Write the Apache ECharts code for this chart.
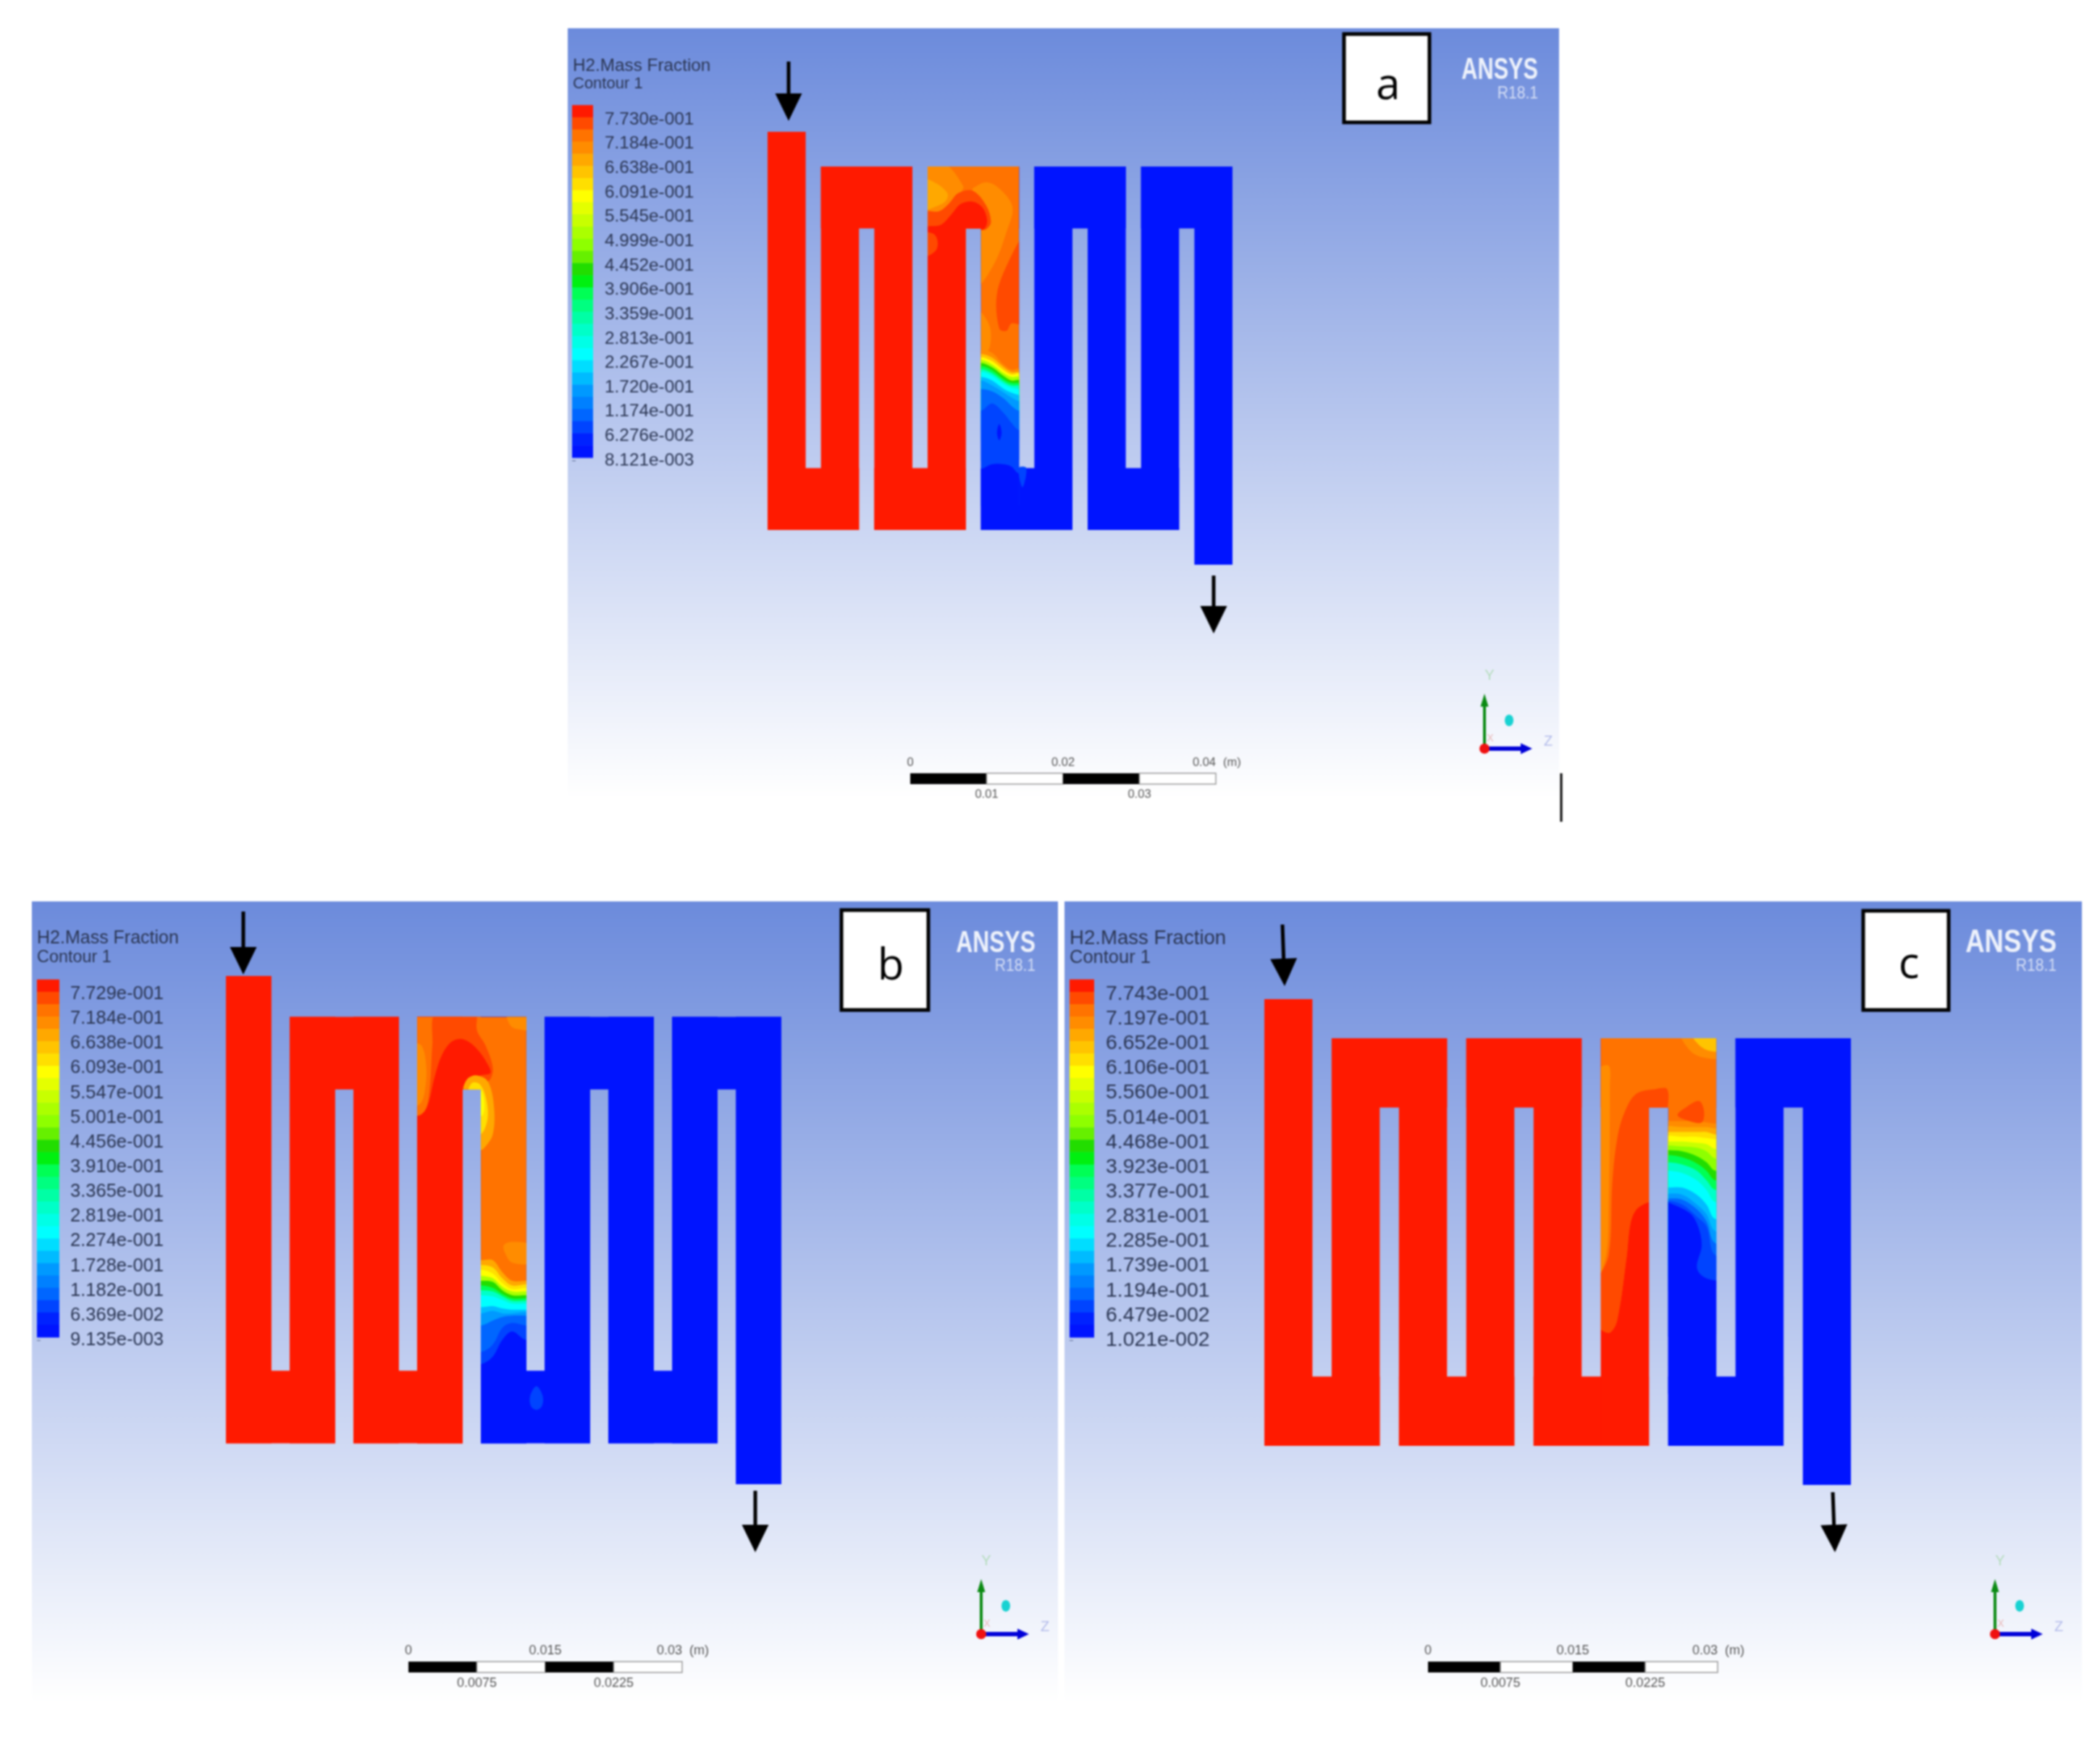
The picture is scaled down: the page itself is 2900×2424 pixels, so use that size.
<!DOCTYPE html>
<html>
<head>
    <meta charset="utf-8">
    <title>H2 Mass Fraction contours</title>
    <script src="https://cdn.jsdelivr.net/npm/echarts@6/dist/echarts.min.js"></script>
    <style>
        html, body { margin: 0; padding: 0; background: #fff; }
        /* the reference is a soft screenshot */
        #main { filter: blur(0.8px); }
    </style>
</head>
<body>
    <div id="main" style="width: 2900px;height:2424px;"></div>
    <script type="text/javascript">
        // colour legend, top band to bottom band
        var bandColors = ['#ff1a00', '#ff4a00', '#ff7300', '#ff8c00', '#ffa800', '#ffc400', '#ffdf00', '#ffff00',
            '#e4ff00', '#c8ff00', '#abff00', '#8eff00', '#66f000', '#22dd00', '#00f010', '#00ff55', '#00ff80',
            '#00ffa5', '#00ffc8', '#00ffe6', '#00ffff', '#00ddff', '#00bbff', '#0099ff', '#0080ff', '#0066ff',
            '#0044ff', '#0022ff', '#0014ff'];

        var legendA = ['7.730e-001', '7.184e-001', '6.638e-001', '6.091e-001', '5.545e-001', '4.999e-001', '4.452e-001', '3.906e-001',
            '3.359e-001', '2.813e-001', '2.267e-001', '1.720e-001', '1.174e-001', '6.276e-002', '8.121e-003'];
        var legendB = ['7.729e-001', '7.184e-001', '6.638e-001', '6.093e-001', '5.547e-001', '5.001e-001', '4.456e-001', '3.910e-001',
            '3.365e-001', '2.819e-001', '2.274e-001', '1.728e-001', '1.182e-001', '6.369e-002', '9.135e-003'];
        var legendC = ['7.743e-001', '7.197e-001', '6.652e-001', '6.106e-001', '5.560e-001', '5.014e-001', '4.468e-001', '3.923e-001',
            '3.377e-001', '2.831e-001', '2.285e-001', '1.739e-001', '1.194e-001', '6.479e-002', '1.021e-002'];

        // scale bars, metres
        var scaleMarksA = [0, 0.01, 0.02, 0.03, 0.04];
        var scaleMarksBC = [0, 0.0075, 0.015, 0.0225, 0.03];

        // serpentine channel in mm, inlet to outlet: [x0, x1, y0, y1], y measured down from the top row
        var flowPath = [
            [0, 5, -4.5, 47], [0, 12, 39, 47], [7, 12, 0, 47], [7, 19, 0, 8], [14, 19, 0, 47], [14, 26, 39, 47],
            [21, 26, 0, 47], [21, 33, 0, 8], [28, 33, 0, 47], [28, 40, 39, 47], [35, 40, 0, 47], [35, 47, 0, 8],
            [42, 47, 0, 47], [42, 54, 39, 47], [49, 54, 0, 47], [49, 61, 0, 8], [56, 61, 0, 51.5]
        ];
        var redPiecesA = 8, redPiecesB = 8, redPiecesC = 12;

        // bend where the hydrogen front sits, the orange part of it, and the leg going down from it
        var hotOutlineAB = [[21, 0], [33, 0], [33, 47], [28, 47], [28, 8], [26, 8], [26, 47], [21, 47]];
        var hotOutlineC = [[35, 0], [47, 0], [47, 47], [42, 47], [42, 8], [40, 8], [40, 47], [35, 47]];
        var hotBaseAB = [[21, 0], [33, 0], [33, 30], [28, 30], [28, 8], [26, 8], [26, 13], [21, 13]];
        var hotBaseC = [[35, 0], [47, 0], [47, 12], [42, 12], [42, 8], [40, 8], [40, 34], [35, 34]];
        var downLegAB = [[28, 0], [33, 0], [33, 47], [28, 47]];
        var downLegC = [[42, 0], [47, 0], [47, 47], [42, 47]];

        // contour patches in mm: [band, points], painted in order
        var patchesA = [
            [3, [[20.5, -0.5], [23.12, -0.5], [25.65, 2.5], [25.33, 3.44], [24.07, 5.63], [21.85, 6.56], [20.5, 6.25]]],
            [4, [[20.5, 1.7], [22.17, 2.19], [23.59, 3.44], [23.43, 4.38], [22.48, 5], [20.5, 5.47]]],
            [3, [[26.92, 2.81], [28.8, 2.03], [30.7, 3.1], [32.14, 5.31], [31.35, 8.44], [29.77, 12.5], [27.7, 15.2], [27.7, 8], [28.66, 8.13], [29.3, 7.19], [28.66, 5], [26.92, 3.13]]],
            [1, [[20.5, 5.9], [22.48, 5.78], [23.75, 4.84], [25.02, 3.44], [26.92, 3.13], [28.66, 5], [29.3, 7.19], [28.66, 8.13], [28, 8.2], [20.5, 8.6]]],
            [0, [[20.5, 8.2], [22.8, 7.5], [24.07, 6.25], [25.33, 4.84], [26.92, 4.53], [28.2, 5.31], [28.8, 6.88], [28.5, 7.97], [27.5, 8.3], [26.5, 8.5], [26.5, 48], [20.5, 48]]],
            [1, [[20.5, 8.6], [21.85, 8.75], [22.33, 9.85], [22, 10.95], [20.5, 11.57]]],
            [1, [[33.6, 9.2], [31.67, 12.2], [30.08, 16.57], [30.4, 20.95], [31.35, 21.26], [32, 20.3], [33.6, 20.3]]],
            [3, [[27.7, 18.76], [29.13, 20.6], [29.13, 23.45], [28.2, 24.39], [27.7, 24.39]]]
        ];
        var patchesB = [
            [3, [[20.5, 3], [21.5, 3.2], [22, 5.5], [21.87, 8], [21.4, 9.5], [20.5, 9.8]]],
            [1, [[23.07, -0.5], [27.31, -0.5], [27.58, 1.54], [28.5, 3.14], [29.3, 5.53], [29.04, 6.86], [28, 7.5], [26, 9], [20.5, 11.2], [21.87, 10.32], [22.4, 7.66], [22.67, 3.14]]],
            [0, [[20, 11], [21.34, 10.85], [22.14, 9.79], [22.93, 6.6], [23.73, 4.2], [24.79, 2.74], [25.98, 2.47], [27.44, 3.4], [28.77, 5.27], [29.04, 6.2], [27.8, 6.5], [26.8, 7.5], [26.5, 9], [26.5, 48], [20, 48]]],
            [4, [[26.12, 8.2], [26.5, 6.86], [27.58, 6.46], [28.77, 7.13], [29.43, 9.79], [29.3, 12.98], [28.24, 14.58], [27.8, 14.58], [27.8, 8.2]]],
            [6, [[26.65, 8.2], [27.05, 7.26], [27.84, 7.39], [28.5, 8.72], [28.77, 10.85], [28.37, 12.45], [27.8, 13], [27.8, 8.2]]],
            [7, [[27.7, 8], [28.11, 8.19], [28.37, 9.79], [28.19, 10.85], [27.8, 10.85]]],
            [3, [[30.9, -0.5], [33.5, -0.5], [33.5, 1.35], [32, 1.35], [31.2, 0.9]]],
            [3, [[30.5, 25.2], [31.43, 24.8], [33.5, 25.2], [33.5, 27.08], [31.43, 27.08], [30.77, 26.28]]]
        ];
        var patchesC = [
            [3, [[34.5, 3.9], [35.81, 3.15], [35.94, 5.52], [35.81, 19.46], [35.56, 25], [34.5, 28]]],
            [3, [[43.4, -0.5], [47.5, -0.5], [47.5, 2.18], [45.48, 2.18], [44.2, 1.34]]],
            [5, [[44.5, -0.5], [47.5, -0.5], [47.5, 1.4], [45.7, 1.2]]],
            [1, [[41.9, 5.9], [41.9, 8.5], [41, 19], [39.96, 18.9], [38.7, 19.74], [38.07, 21.41], [37.7, 25.03], [36.69, 32.56], [35.94, 33.95], [35.06, 33.67], [34.5, 33], [34.5, 28.5], [35.81, 25], [36.19, 16.67], [36.69, 11.65], [37.45, 8.59], [38.7, 6.4], [40.71, 5.86]]],
            [0, [[41, 18.9], [39.96, 18.9], [38.7, 19.74], [38.07, 21.41], [37.7, 25.03], [36.69, 32.56], [35.94, 33.95], [35.06, 33.67], [34.5, 33], [34.5, 48], [41, 48]]]
        ];

        // the front across the hot leg: [band, depth in mm at each frontX]
        var frontXA = [28, 29.45, 31, 32, 33];
        var frontsA = [
            [3, [23.76, 24.08, 25.64, 26.27, 26.11]], [5, [24.23, 24.7, 25.95, 26.58, 26.52]], [7, [24.64, 25.17, 26.36, 26.89, 26.73]],
            [10, [25.01, 25.58, 26.73, 27.2, 27.14]], [13, [25.39, 25.95, 27.11, 27.67, 27.58]], [15, [25.8, 26.33, 27.52, 27.98, 27.98]],
            [18, [26.2, 26.73, 27.83, 28.3, 28.3]], [20, [26.52, 27.05, 28.14, 28.61, 28.77]], [22, [27.2, 27.67, 28.77, 29.24, 29.55]],
            [23, [27.67, 28.3, 29.24, 29.86, 30.33]], [25, [28.77, 29.08, 30.02, 30.96, 31.58]], [26, [31.58, 30.64, 31.9, 33.14, 34.08]],
            [28, [39.1, 38.5, 38.5, 38.8, 39.7]]
        ];
        var frontXB = [28.05, 29.3, 30.36, 31.43, 32.94];
        var frontsB = [
            [4, [26.81, 26.81, 28.14, 29.08, 29.08]], [6, [27.34, 27.61, 28.81, 29.61, 29.47]], [7, [27.88, 28.28, 29.34, 30, 29.87]],
            [10, [28.54, 28.81, 29.74, 30.27, 30.27]], [13, [29.08, 29.21, 30.14, 30.67, 30.67]], [15, [29.61, 29.87, 30.54, 31.01, 31.01]],
            [18, [30.14, 30.27, 30.8, 31.28, 31.28]], [20, [30.67, 30.8, 31.2, 31.6, 31.6]], [22, [32, 31.87, 32.13, 32.27, 32.27]],
            [23, [32.67, 32.4, 32.67, 32.67, 32.53]], [25, [34, 33.47, 33.07, 32.93, 32.93]], [26, [36.92, 36.12, 34.26, 33.73, 34]],
            [28, [38.25, 37.45, 35.59, 34.66, 35.59]]
        ];
        var frontXC = [41.96, 43.47, 44.98, 45.98, 46.91];
        var frontsC = [
            [3, [9.56, 9.56, 9.56, 9.7, 9.84]], [4, [10.12, 10.26, 10.26, 10.26, 10.4]], [6, [10.82, 10.82, 10.82, 10.82, 11.1]],
            [7, [11.23, 11.37, 11.37, 11.51, 11.65]], [9, [11.93, 11.93, 12.07, 12.21, 12.77]], [11, [12.35, 12.49, 12.63, 13.05, 13.88]],
            [13, [12.91, 13.05, 13.6, 14.3, 15.28]], [15, [13.46, 13.74, 14.44, 15.28, 16.39]], [18, [14.3, 14.58, 15.28, 16.39, 17.5]],
            [20, [15.28, 15.55, 16.39, 17.5, 18.9]], [22, [17.23, 17.23, 18.06, 19.18, 20.85]], [23, [17.92, 18.06, 19.18, 20.29, 22.24]],
            [25, [18.48, 18.62, 19.73, 21.13, 23.64]], [26, [18.76, 19.18, 20.57, 21.69, 25.03]]
        ];
        var coldPatchesC = [
            [1, [[42.97, 8.87], [43.97, 7.89], [45.23, 7.25], [45.73, 8.45], [45.48, 9.7], [44.22, 9.56]]],
            [28, [[41.5, 18.7], [41.96, 18.9], [44.22, 20.15], [45.1, 21.69], [45.48, 23.92], [44.98, 26.42], [45.73, 27.54], [47.5, 28], [49, 28], [49, 40], [41, 40]]]
        ];
        // small spots beyond the front
        var spotsA = [
            [28, [[30.1, 34.4], [30.4, 33.3], [30.7, 34.4], [30.4, 35.4]]],
            [26, [[32.95, 39], [33.95, 39], [33.45, 41.5]]]
        ];
        var spotsB = [
            [26, [[33.5, 42.9], [33.4, 41.8], [34.1, 40.7], [34.8, 41.8], [34.7, 42.9], [34.1, 43.3]]]
        ];

        var panels = [
            { letter: 'a', legend: legendA, marks: scaleMarksA, red: redPiecesA, outline: hotOutlineAB, base: hotBaseAB, leg: downLegAB, patches: patchesA, frontX: frontXA, fronts: frontsA, cold: [], spots: spotsA,
                bg: [784, 39, 1369, 1096], field: [1060, 182, 642, 598],
                title: [791, 91, 791, 116, 24.3, 22], bar: [790, 165, 29, 471], labelMargin: 16, labelSize: 24.4,
                scale: [1257, 1068, 422, 15, 16.5], box: [1856, 47, 118, 122], letterAt: [2, 12],
                ansys: [2124, 97, 0.73, 42, 129, 24], arrows: [[1089, 85, 1089, 167], [1676, 795, 1676, 875]], triad: [2050, 1034] },
            { letter: 'b', legend: legendB, marks: scaleMarksBC, red: redPiecesB, outline: hotOutlineAB, base: hotBaseAB, leg: downLegAB, patches: patchesB, frontX: frontXB, fronts: frontsB, cold: [], spots: spotsB,
                bg: [44, 1245, 1417, 1140], field: [312, 1348, 767, 702],
                title: [51, 1296, 51, 1323, 25, 23.4], bar: [51, 1373, 31, 478], labelMargin: 15, labelSize: 25.5,
                scale: [564, 2295, 378, 15, 18], box: [1162, 1257, 120, 138], letterAt: [8, 10],
                ansys: [1430, 1303, 0.74, 43, 1334, 24], arrows: [[336, 1259, 336, 1346], [1043, 2059, 1043, 2144]], triad: [1355, 2257] },
            { letter: 'c', legend: legendC, marks: scaleMarksBC, red: redPiecesC, outline: hotOutlineC, base: hotBaseC, leg: downLegC, patches: patchesC, frontX: frontXC, fronts: frontsC, cold: coldPatchesC, spots: [],
                bg: [1470, 1245, 1405, 1140], field: [1746, 1380, 810, 671],
                title: [1477, 1296, 1477, 1323, 27.6, 25.5], bar: [1477, 1373, 34, 478], labelMargin: 16, labelSize: 28.4,
                scale: [1972, 2295, 400, 15, 18], box: [2573, 1258, 118, 137], letterAt: [4, 7],
                ansys: [2840, 1303, 0.83, 44, 1334, 24], arrows: [[1771, 1277, 1774, 1362], [2531, 2061, 2534, 2144]], triad: [2755, 2257] }
        ];

        var textFont = '"Liberation Sans", Arial, sans-serif';
        var inkColor = '#2a3552';
        var smoothing = 0.35;

        function arrowPoints(x0, y0, x1, y1, headLen, headW, shaftW) {
            var len = Math.sqrt((x1 - x0) * (x1 - x0) + (y1 - y0) * (y1 - y0));
            var ux = (x1 - x0) / len, uy = (y1 - y0) / len;
            var nx = -uy, ny = ux;
            var bx = x1 - ux * headLen, by = y1 - uy * headLen;
            return [
                [x0 + nx * shaftW / 2, y0 + ny * shaftW / 2], [bx + nx * shaftW / 2, by + ny * shaftW / 2],
                [bx + nx * headW / 2, by + ny * headW / 2], [x1, y1],
                [bx - nx * headW / 2, by - ny * headW / 2], [bx - nx * shaftW / 2, by - ny * shaftW / 2],
                [x0 - nx * shaftW / 2, y0 - ny * shaftW / 2]
            ];
        }

        function label(x, y, str, size, color, align, extra) {
            var el = {
                type: 'text', x: x, y: y, z: 5, silent: true,
                style: { text: str, font: (extra && extra.weight ? extra.weight + ' ' : '') + size + 'px ' + textFont, fill: color, textAlign: align || 'left', textVerticalAlign: 'middle', align: align || 'left', verticalAlign: 'middle' }
            };
            if (extra && extra.scaleX) { el.scaleX = extra.scaleX; }
            return el;
        }

        var graphics = [];
        var grids = [], xAxes = [], yAxes = [], series = [];

        panels.forEach(function (p) {
            // viewport background
            graphics.push({
                type: 'rect', z: -1, silent: true,
                shape: { x: p.bg[0], y: p.bg[1], width: p.bg[2], height: p.bg[3] },
                style: { fill: new echarts.graphic.LinearGradient(0, 0, 0, 1, [{ offset: 0, color: '#6c8bdc' }, { offset: 0.97, color: '#ffffff' }, { offset: 1, color: '#ffffff' }]) }
            });
            graphics.push(label(p.title[0], p.title[1], 'H2.Mass Fraction', p.title[4], inkColor));
            graphics.push(label(p.title[2], p.title[3], 'Contour 1', p.title[5], inkColor));

            // letter box
            graphics.push({
                type: 'rect', z: 5, silent: true,
                shape: { x: p.box[0], y: p.box[1], width: p.box[2], height: p.box[3] },
                style: { fill: '#fff', stroke: '#000', lineWidth: 5 }
            });
            graphics.push({
                type: 'text', z: 6, silent: true, x: p.box[0] + p.box[2] / 2 + p.letterAt[0], y: p.box[1] + p.box[3] / 2 + p.letterAt[1],
                style: { text: p.letter, font: '60px "Open Sans", "Noto Sans", sans-serif', fill: '#000', textAlign: 'center', textVerticalAlign: 'middle', align: 'center', verticalAlign: 'middle' }
            });

            // ANSYS mark
            graphics.push(label(p.ansys[0], p.ansys[1], 'ANSYS', p.ansys[3], '#eef2fb', 'right', { weight: 'bold', scaleX: p.ansys[2] }));
            graphics.push(label(p.ansys[0], p.ansys[4], 'R18.1', p.ansys[5], '#d5def5', 'right', { scaleX: 0.88 }));

            // flow arrows
            p.arrows.forEach(function (a) {
                graphics.push({
                    type: 'polygon', z: 4, silent: true,
                    shape: { points: arrowPoints(a[0], a[1], a[2], a[3], 38, 37, 5) }, style: { fill: '#000' }
                });
            });

            // axis triad
            var ox = p.triad[0], oy = p.triad[1];
            graphics.push({ type: 'polygon', z: 4, silent: true, shape: { points: arrowPoints(ox, oy, ox, oy - 76, 18, 11, 4) }, style: { fill: '#0a8a12' } });
            graphics.push({ type: 'polygon', z: 4, silent: true, shape: { points: arrowPoints(ox, oy, ox + 66, oy, 16, 15, 6) }, style: { fill: '#0000d8' } });
            graphics.push({ type: 'circle', z: 4, silent: true, shape: { cx: ox, cy: oy, r: 7 }, style: { fill: '#f01010' } });
            graphics.push({ type: 'ellipse', z: 4, silent: true, shape: { cx: ox + 34, cy: oy - 39, rx: 6, ry: 8 }, style: { fill: '#18d2d2' } });
            graphics.push(label(ox + 7, oy - 101, 'Y', 20, '#b4dcbc', 'center'));
            graphics.push(label(ox + 88, oy - 10, 'Z', 20, '#b4bcea', 'center'));
            graphics.push(label(ox + 8, oy - 14, 'X', 14, '#e8b8b8', 'center'));

            // channel field
            var fg = grids.length, fx = xAxes.length, fy = yAxes.length;
            grids.push({ left: p.field[0], top: p.field[1], width: p.field[2], height: p.field[3] });
            xAxes.push({ gridIndex: fg, type: 'value', min: 0, max: 61, show: false });
            yAxes.push({ gridIndex: fg, type: 'value', min: -4.5, max: 51.5, inverse: true, show: false });
            series.push({
                type: 'custom', xAxisIndex: fx, yAxisIndex: fy, silent: true, animation: false, z: 2,
                data: flowPath.map(function (r, i) { return [r[0], r[2], i]; }),
                renderItem: (function (panel) {
                    return function (params, api) {
                        var i = api.value(2), r = flowPath[i];
                        var a = api.coord([r[0], r[2]]), b = api.coord([r[1], r[3]]);
                        return { type: 'rect', shape: { x: a[0], y: a[1], width: b[0] - a[0], height: b[1] - a[1] }, style: { fill: i < panel.red ? bandColors[0] : bandColors[28] } };
                    };
                })(p)
            });
            series.push({
                type: 'custom', xAxisIndex: fx, yAxisIndex: fy, silent: true, animation: false, z: 3,
                data: [[30, 20]],
                renderItem: (function (panel) {
                    return function (params, api) {
                        function px(points) { return points.map(function (q) { return api.coord(q); }); }
                        function patch(item) {
                            return { type: 'polygon', shape: { points: px(item[1]), smooth: smoothing }, style: { fill: bandColors[item[0]] } };
                        }
                        var bend = [{ type: 'polygon', shape: { points: px(panel.base) }, style: { fill: bandColors[2] } }];
                        panel.patches.forEach(function (item) { bend.push(patch(item)); });
                        var leg = [];
                        var xs = panel.frontX, n = xs.length - 1;
                        panel.fronts.forEach(function (f, j) {
                            // run the curve past both walls, and only a little way under the next band:
                            // stacking every band down the wall leaves a coloured edge where the clip blends
                            var next = panel.fronts[j + 1];
                            var floor = next ? Math.max.apply(null, next[1]) + 3 : (panel.cold.length ? Math.max.apply(null, f[1]) + 8 : 47.5);
                            var pts = [[xs[0] - 3, f[1][0]]];
                            xs.forEach(function (x, k) { pts.push([x, f[1][k]]); });
                            pts.push([xs[n] + 3, f[1][n]], [xs[n] + 3, floor], [xs[0] - 3, floor]);
                            leg.push(patch([f[0], pts]));
                        });
                        panel.cold.forEach(function (item) { leg.push(patch(item)); });
                        var spots = panel.spots.map(function (item) { return patch(item); });
                        return {
                            type: 'group',
                            children: [
                                { type: 'group', clipPath: { type: 'polygon', shape: { points: px(panel.outline) } }, children: bend },
                                { type: 'group', clipPath: { type: 'polygon', shape: { points: px(panel.leg) } }, children: leg }
                            ].concat(spots)
                        };
                    };
                })(p)
            });

            // colour legend: one tick label per legend entry
            var lg = grids.length, lx = xAxes.length, ly = yAxes.length;
            grids.push({ left: p.bar[0], top: p.bar[1], width: p.bar[2], height: p.bar[3] });
            xAxes.push({ gridIndex: lg, type: 'value', min: 0, max: 1, show: false });
            yAxes.push({
                gridIndex: lg, type: 'value', min: 0, max: 14, interval: 1, inverse: true, position: 'right',
                axisLine: { show: false }, splitLine: { show: false },
                axisTick: { show: true, length: 5, lineStyle: { color: '#5a6a90', width: 1 } },
                axisLabel: {
                    margin: p.labelMargin, align: 'left', fontSize: p.labelSize, fontFamily: textFont, color: inkColor,
                    formatter: (function (names) { return function (v) { return names[v]; }; })(p.legend)
                }
            });
            series.push({
                type: 'custom', xAxisIndex: lx, yAxisIndex: ly, silent: true, animation: false, z: 2,
                data: bandColors.map(function (c, i) { return [0, i, i]; }),
                renderItem: function (params, api) {
                    // bar starts above the first label and stops just short of the last one
                    var from = -0.59, to = 13.88, step = (to - from) / bandColors.length, i = api.value(2);
                    var a = api.coord([0, from + i * step]), b = api.coord([1, from + (i + 1) * step]);
                    return { type: 'rect', shape: { x: a[0], y: a[1], width: b[0] - a[0], height: b[1] - a[1] + 0.5 }, style: { fill: bandColors[i] } };
                }
            });

            // scale bar
            var sg = grids.length, sx = xAxes.length, sy = yAxes.length, m = p.marks, fs = p.scale[4];
            grids.push({ left: p.scale[0], top: p.scale[1], width: p.scale[2], height: p.scale[3] });
            var scaleLabel = function (v) { return String(v); };
            xAxes.push({
                gridIndex: sg, type: 'value', position: 'top', min: 0, max: m[4],
                axisLine: { show: false }, axisTick: { show: false }, splitLine: { show: false },
                axisLabel: { customValues: [m[0], m[2]], formatter: scaleLabel, fontSize: fs, color: '#555', fontFamily: textFont, margin: 6 }
            });
            xAxes.push({
                gridIndex: sg, type: 'value', position: 'bottom', min: 0, max: m[4],
                axisLine: { show: false }, axisTick: { show: false }, splitLine: { show: false },
                axisLabel: { customValues: [m[1], m[3]], formatter: scaleLabel, fontSize: fs, color: '#555', fontFamily: textFont, margin: 6 }
            });
            yAxes.push({ gridIndex: sg, type: 'value', min: 0, max: 1, show: false });
            series.push({
                type: 'custom', xAxisIndex: sx, yAxisIndex: sy, silent: true, animation: false, z: 2,
                data: [[m[0], m[1], 0], [m[1], m[2], 1], [m[2], m[3], 0], [m[3], m[4], 1]],
                renderItem: function (params, api) {
                    var a = api.coord([api.value(0), 1]), b = api.coord([api.value(1), 0]);
                    return { type: 'rect', shape: { x: a[0], y: a[1], width: b[0] - a[0], height: b[1] - a[1] }, style: api.value(2) ? { fill: '#fff', stroke: '#999', lineWidth: 1.5 } : { fill: '#000' } };
                }
            });
            series.push({
                type: 'custom', xAxisIndex: sx, yAxisIndex: sy, silent: true, animation: false, z: 2,
                data: [[m[4], 1]],
                renderItem: (function (size) {
                    return function (params, api) {
                        var a = api.coord([api.value(0), 1]);
                        var base = { font: size + 'px ' + textFont, fill: '#555', textVerticalAlign: 'bottom', verticalAlign: 'bottom' };
                        return {
                            type: 'group', children: [
                                { type: 'text', style: Object.assign({ text: String(api.value(0)), x: a[0], y: a[1] - 6, textAlign: 'right', align: 'right' }, base) },
                                { type: 'text', style: Object.assign({ text: '(m)', x: a[0] + 10, y: a[1] - 6, textAlign: 'left', align: 'left' }, base) }
                            ]
                        };
                    };
                })(fs)
            });
        });

        // stray rule at the corner of panel a
        graphics.push({ type: 'rect', z: 5, silent: true, shape: { x: 2154.5, y: 1068, width: 3, height: 67 }, style: { fill: '#000' } });

        var chart = echarts.init(document.getElementById('main'), null, { renderer: 'canvas' });
        chart.setOption({
            animation: false,
            backgroundColor: '#fff',
            graphic: { elements: graphics },
            grid: grids,
            xAxis: xAxes,
            yAxis: yAxes,
            series: series
        });
    </script>
</body>
</html>
